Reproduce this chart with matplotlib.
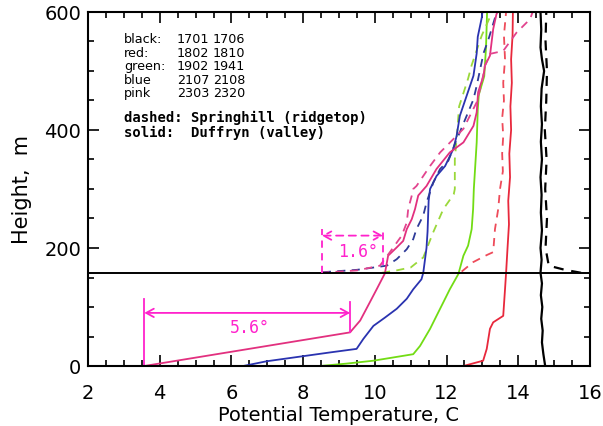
import matplotlib
matplotlib.use("Agg")
import matplotlib.pyplot as plt
from matplotlib.ticker import MultipleLocator

# ---------------- data (temperature C, height m) ----------------
black_solid_t = [14.75, 14.70, 14.66, 14.68, 14.64, 14.67, 14.63, 14.66, 14.62, 14.65, 14.62, 14.66,
                 14.63, 14.65, 14.62, 14.66, 14.63, 14.66, 14.63, 14.65, 14.72, 14.66, 14.62, 14.64, 14.62]
black_solid_h = [0, 20, 40, 60, 80, 100, 120, 140, 158, 180, 200, 230, 260, 290, 320, 350, 380,
                 410, 440, 470, 500, 520, 540, 570, 600]
black_dash_t = [15.75, 15.3, 14.85, 14.76, 14.80, 14.75, 14.79, 14.74, 14.78, 14.80, 14.76, 14.78]
black_dash_h = [158, 163, 170, 200, 250, 300, 350, 400, 450, 500, 550, 600]

red_solid_t = [12.47, 13.02, 13.12, 13.21, 13.30, 13.58, 13.63, 13.66, 13.70, 13.74, 13.72, 13.77,
               13.75, 13.80, 13.78, 13.82, 13.80, 13.84, 13.85]
red_solid_h = [0, 9, 29, 63, 74, 85, 130, 158, 200, 240, 280, 320, 360, 400, 440, 480, 520, 560, 600]
red_dash_t = [12.42, 12.74, 13.12, 13.30, 13.35, 13.44, 13.49, 13.57, 13.55, 13.58, 13.55, 13.60,
              13.58, 13.63, 13.60, 13.66]
red_dash_h = [160, 176, 188, 193, 232, 266, 300, 330, 360, 390, 420, 450, 480, 520, 560, 600]

green_solid_t = [8.47, 9.2, 9.96, 11.07, 11.26, 11.54, 11.72, 11.91, 12.09, 12.33, 12.47, 12.60,
                 12.70, 12.74, 12.76, 12.84, 12.87, 12.90, 13.05, 13.10, 13.13]
green_solid_h = [0, 4, 9, 20, 34, 63, 85, 108, 130, 156, 187, 204, 232, 266, 300, 379, 435, 460,
                 491, 540, 600]
green_dash_t = [10.2, 10.6, 11.0, 11.35, 11.63, 11.91, 12.2, 12.23, 12.23, 12.30, 12.35, 12.6,
                12.7, 12.98, 13.2, 13.25]
green_dash_h = [158, 162, 167, 184, 227, 266, 291, 300, 350, 400, 440, 487, 510, 560, 590, 600]

blue_solid_t = [6.33, 6.98, 8.75, 9.49, 9.68, 9.96, 10.28, 10.61, 10.89, 11.07, 11.30, 11.35, 11.44,
                11.47, 11.50, 11.54, 11.72, 11.96, 12.19, 12.28, 12.37, 12.56, 12.75, 12.84, 12.87,
                12.98, 13.0]
blue_solid_h = [0, 8, 23, 29, 46, 68, 82, 97, 114, 130, 147, 158, 200, 228, 280, 300, 322, 339, 368,
                390, 424, 458, 492, 530, 558, 590, 600]
blue_dash_t = [8.55, 9.5, 10.33, 10.61, 10.89, 11.07, 11.16, 11.35, 11.44, 11.63, 11.82, 12.05,
               12.23, 12.56, 12.75, 12.84, 13.03, 13.17, 13.35, 13.4]
blue_dash_h = [159, 163, 170, 181, 198, 215, 232, 255, 277, 311, 334, 348, 376, 424, 452, 475, 530,
               554, 590, 600]

pink_solid_t = [3.57, 9.31, 9.35, 9.59, 9.86, 10.05, 10.28, 10.37, 10.61, 10.79, 10.89, 11.03, 11.12,
                11.21, 11.44, 11.72, 12.09, 12.47, 12.75, 12.84, 12.88, 13.03, 13.07, 13.21, 13.30,
                13.39, 13.42]
pink_solid_h = [0, 57, 60, 77, 108, 130, 157, 187, 201, 212, 232, 249, 266, 289, 305, 334, 362, 379,
                407, 430, 464, 492, 509, 526, 571, 596, 600]
pink_dash_t = [8.5, 9.5, 10.14, 10.42, 10.75, 10.89, 10.93, 11.03, 11.07, 11.16, 11.54, 11.82, 12.05,
               12.47, 12.6, 12.84, 12.98, 13.07, 13.21, 13.58, 13.95, 14.33, 14.4]
pink_dash_h = [158, 162, 170, 193, 221, 243, 266, 289, 300, 305, 339, 362, 376, 402, 418, 447, 480,
               509, 529, 534, 565, 588, 600]

ridge_height = 158

legend_names = ["black:", "red:", "green:", "blue", "pink"]
legend_ids1 = ["1701", "1802", "1902", "2107", "2303"]
legend_ids2 = ["1706", "1810", "1941", "2108", "2320"]
legend_notes = ["dashed: Springhill (ridgetop)", "solid:  Duffryn (valley)"]

# annotations: valley gap and ridge gap
valley_gap = [3.57, 9.31]
ridge_gap = [8.52, 10.23]
valley_label = "5.6\u00b0"
ridge_label = "1.6\u00b0"

x_ticks = [2, 4, 6, 8, 10, 12, 14, 16]
y_ticks = [0, 200, 400, 600]

# ---------------- styling ----------------
c_black = "#000000"
c_red = "#e8283c"
c_red_d = "#ee4b5a"
c_green = "#72dc14"
c_green_d = "#9ad83a"
c_blue = "#2a33b0"
c_blue_d = "#2e3a98"
c_pink = "#e2307f"
c_pink_d = "#e2448e"
c_annot = "#ff22cc"

fig = plt.figure(figsize=(6.03, 4.27), dpi=100)
ax = fig.add_axes([88 / 603, 1 - 367 / 427, 502 / 603, 354 / 427])

lw = 1.3
dash = (0, (4.5, 3.5))
ax.plot(black_solid_t, black_solid_h, color=c_black, lw=lw + 0.3)
ax.plot(black_dash_t, black_dash_h, color=c_black, lw=lw + 0.3, linestyle=dash)
ax.plot(red_solid_t, red_solid_h, color=c_red, lw=lw)
ax.plot(red_dash_t, red_dash_h, color=c_red_d, lw=lw, linestyle=dash)
ax.plot(green_solid_t, green_solid_h, color=c_green, lw=lw)
ax.plot(green_dash_t, green_dash_h, color=c_green_d, lw=lw, linestyle=dash)
ax.plot(blue_solid_t, blue_solid_h, color=c_blue, lw=lw)
ax.plot(blue_dash_t, blue_dash_h, color=c_blue_d, lw=lw, linestyle=dash)
ax.plot(pink_solid_t, pink_solid_h, color=c_pink, lw=lw)
ax.plot(pink_dash_t, pink_dash_h, color=c_pink_d, lw=lw, linestyle=dash)

ax.axhline(ridge_height, color="black", lw=1.4)

# valley annotation (solid)
ax.plot([valley_gap[0]] * 2, [0, 113], color=c_annot, lw=1.3)
ax.plot([valley_gap[1]] * 2, [57, 108], color=c_annot, lw=1.3)
ax.annotate("", xy=(valley_gap[0], 90), xytext=(valley_gap[1], 90),
            arrowprops=dict(arrowstyle="<->,head_length=0.55,head_width=0.3", color=c_annot, lw=1.3,
                            shrinkA=0, shrinkB=0))
ax.text(sum(valley_gap) / 2 + 0.08, 66, valley_label, color=c_annot, fontsize=12,
        family="DejaVu Sans Mono", ha="center", va="center")

# ridge annotation (dashed)
ax.plot([ridge_gap[0]] * 2, [ridge_height, 232], color=c_annot, lw=1.3, linestyle=(0, (4, 3)))
ax.plot([ridge_gap[1]] * 2, [172, 232], color=c_annot, lw=1.3, linestyle=(0, (4, 3)))
ax.annotate("", xy=(ridge_gap[0], 221), xytext=(ridge_gap[1], 221),
            arrowprops=dict(arrowstyle="<->,head_length=0.55,head_width=0.3", color=c_annot, lw=1.3,
                            linestyle=(0, (4, 3)), shrinkA=0, shrinkB=0))
ax.text(sum(ridge_gap) / 2 + 0.15, 195, ridge_label, color=c_annot, fontsize=12,
        family="DejaVu Sans Mono", ha="center", va="center")

# legend text
ys = [0.924, 0.887, 0.850, 0.810, 0.772]
for name, a, b, yy in zip(legend_names, legend_ids1, legend_ids2, ys):
    ax.text(0.0717, yy, name, transform=ax.transAxes, fontsize=9.2, family="DejaVu Sans",
            ha="left", va="center")
    ax.text(0.177, yy, a, transform=ax.transAxes, fontsize=9.2, family="DejaVu Sans",
            ha="left", va="center")
    ax.text(0.249, yy, b, transform=ax.transAxes, fontsize=9.2, family="DejaVu Sans",
            ha="left", va="center")
for note, yy in zip(legend_notes, [0.703, 0.661]):
    ax.text(0.0717, yy, note, transform=ax.transAxes, fontsize=10, family="DejaVu Sans Mono",
            weight="bold", ha="left", va="center")

ax.set_xlim(2, 16)
ax.set_ylim(0, 600)
ax.set_xticks(x_ticks)
ax.set_yticks(y_ticks)
ax.xaxis.set_minor_locator(MultipleLocator(0.5))
ax.yaxis.set_minor_locator(MultipleLocator(50))
ax.tick_params(which="both", direction="in", top=True, right=True, width=1.2, labelsize=14)
ax.tick_params(axis="x", which="both", pad=12)
ax.tick_params(axis="y", which="both", pad=5)
ax.tick_params(which="major", length=8)
ax.tick_params(which="minor", length=4)
for lab in ax.get_xticklabels() + ax.get_yticklabels():
    lab.set_family("DejaVu Sans")
for s in ax.spines.values():
    s.set_linewidth(1.5)

ax.set_xlabel("Potential Temperature, C", fontsize=14, family="DejaVu Sans", va="baseline")
ax.xaxis.set_label_coords(0.5, -(421 - 367) / 354)
ax.set_ylabel("Height,  m", fontsize=15, family="DejaVu Sans", labelpad=9)

fig.savefig("out.png", dpi=100)
